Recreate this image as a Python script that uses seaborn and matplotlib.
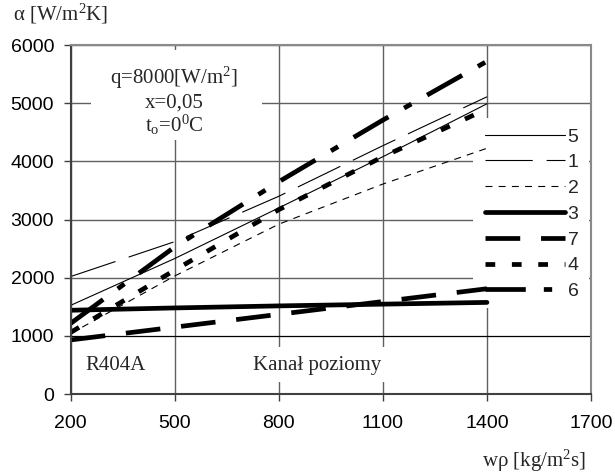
import matplotlib
matplotlib.use("Agg")
import matplotlib.pyplot as plt
import seaborn as sns
from matplotlib.patches import Rectangle

# data
wp = [200, 500, 800, 1100, 1400]
alpha_5 = [1525, 2330, 3200, 4080, 4990]
alpha_1 = [2020, 2620, 3400, 4270, 5110]
alpha_2 = [1040, 2030, 2920, 3610, 4225]
alpha_3 = [1440, 1480, 1515, 1545, 1575]
alpha_7 = [930, 1150, 1370, 1590, 1810]
alpha_4 = [1060, 2130, 3170, 4080, 4900]
alpha_6 = [1215, 2530, 3650, 4710, 5720]

series_names = ["5", "1", "2", "3", "7", "4", "6"]
series_values = [alpha_5, alpha_1, alpha_2, alpha_3, alpha_7, alpha_4, alpha_6]

x_ticks = [200, 500, 800, 1100, 1400, 1700]
y_ticks = [0, 1000, 2000, 3000, 4000, 5000, 6000]

sns.set_style("white")
plt.rcParams["font.family"] = ["Liberation Sans", "DejaVu Sans"]
plt.rcParams["mathtext.fontset"] = "custom"
plt.rcParams["mathtext.rm"] = "Liberation Serif"
plt.rcParams["mathtext.it"] = "Liberation Serif:italic"
plt.rcParams["lines.scale_dashes"] = False

# line look per series (thin / thick, dash pattern in points)
styles = {
    "5": dict(linewidth=0.8, linestyle="-"),
    "1": dict(linewidth=0.8, linestyle=(0, (34, 10))),
    "2": dict(linewidth=0.8, linestyle=(0, (5, 4.5))),
    "3": dict(linewidth=3.4, linestyle="-", solid_capstyle="round"),
    "7": dict(linewidth=3.4, linestyle=(0, (25, 15))),
    "4": dict(linewidth=3.4, linestyle=(0, (7, 12))),
    "6": dict(linewidth=3.4, linestyle=(0, (29, 13, 6, 13))),
}

fig = plt.figure(figsize=(6.15, 4.75), dpi=100)
ax = fig.add_axes([0.115, 0.1705, 0.846, 0.7347])
ax.set_axisbelow(True)

for name, vals in zip(series_names, series_values):
    sns.lineplot(x=wp, y=vals, ax=ax, color="black", label=name, **styles[name])

ax.set_xlim(200, 1700)
ax.set_ylim(0, 6000)
ax.set_xticks(x_ticks)
ax.set_yticks(y_ticks)
ax.set_xlabel("")
ax.set_ylabel("")

ax.grid(True, color="#606060", linewidth=1)
ax.get_ygridlines()[1].set_color("black")
ax.get_ygridlines()[1].set_linewidth(0.9)

for side in ["left", "bottom"]:
    ax.spines[side].set_color("#404040")
    ax.spines[side].set_linewidth(1.5)
for side in ["top", "right"]:
    ax.spines[side].set_color("#8a8a8a")
    ax.spines[side].set_linewidth(1.5)

ax.tick_params(axis="both", direction="out", length=5, width=1, color="#404040",
               labelsize=14, labelcolor="black")
ax.tick_params(axis="x", pad=10, bottom=True)
ax.tick_params(axis="y", pad=7, left=True)

# white boxes hiding the grid behind the texts and the legend
ax.add_patch(Rectangle((0.039, 0.728), 0.329, 0.258, transform=ax.transAxes,
                       facecolor="white", edgecolor="none", zorder=1))
ax.add_patch(Rectangle((0.773, 0.246), 0.224, 0.545, transform=ax.transAxes,
                       facecolor="white", edgecolor="none", zorder=1))
ax.add_patch(Rectangle((0.345, 0.034), 0.262, 0.101, transform=ax.transAxes,
                       facecolor="white", edgecolor="none", zorder=1))

leg = ax.legend(loc="upper left", bbox_to_anchor=(0.796, 0.7625), frameon=False,
                fontsize=14, handlelength=4.1, handletextpad=0.15,
                labelspacing=0.42, borderpad=0, borderaxespad=0)

serif = "Liberation Serif"
ax.text(0.1985, 0.8883, "q=8000[W/m$^2$]", transform=ax.transAxes, ha="center",
        va="baseline", fontsize=15, family=serif)
ax.text(0.1985, 0.8215, "x=0,05", transform=ax.transAxes, ha="center",
        va="baseline", fontsize=15, family=serif)
ax.text(0.1985, 0.7516, r"t$_\mathrm{o}$=0$^\mathrm{0}$C", transform=ax.transAxes,
        ha="center", va="baseline", fontsize=15, family=serif)
ax.text(0.086, 0.0688, "R404A", transform=ax.transAxes, ha="center",
        va="baseline", fontsize=15, family=serif)
ax.text(0.474, 0.0688, "Kanał poziomy", transform=ax.transAxes, ha="center",
        va="baseline", fontsize=15, family=serif)

fig.text(0.0206, 0.9564, "α [W/m$^2$K]", ha="left", va="baseline",
         fontsize=15, family=serif)
fig.text(0.783, 0.0175, "wρ [kg/m$^2$s]", ha="left", va="baseline",
         fontsize=15, family=serif)

fig.savefig("out.png", dpi=100)
